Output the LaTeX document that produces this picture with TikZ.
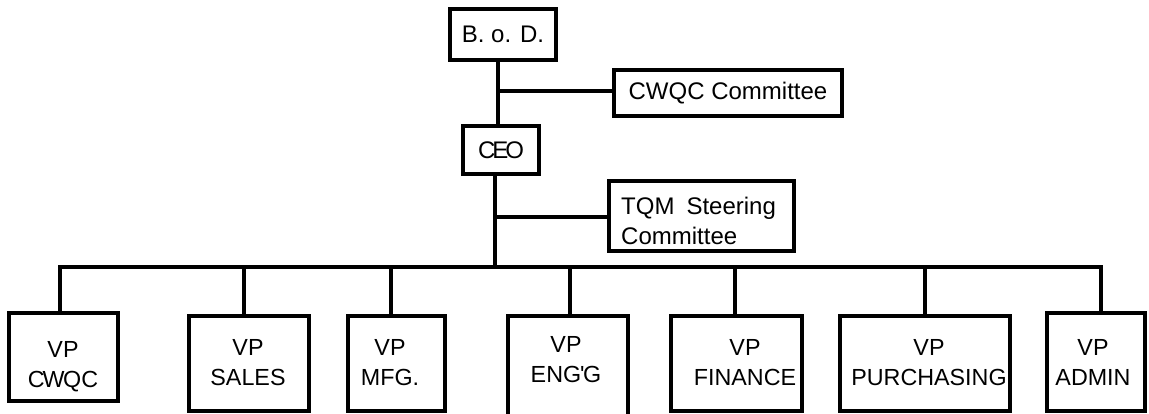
\documentclass[tikz,border=0pt]{standalone}
\usepackage{fontspec}
\setmainfont{Liberation Sans}
\begin{document}
\begin{tikzpicture}[x=1pt,y=-1pt,
  box/.style={draw, line width=3.2pt, inner sep=0pt},
  wire/.style={line width=3.2pt},
  toplbl/.style={font=\fontsize{24}{30}\selectfont},
  vplbl/.style={inner sep=0pt, anchor=north, align=center, font=\fontsize{23.3}{30.5}\selectfont}]
\clip (0,0) rectangle (1149,413);

% board, CEO and the two committees
\node[box, toplbl, minimum width=106pt, minimum height=51pt] (bod) at (503,34.5) {B. o. D.};
\node[box, toplbl, minimum width=228pt, minimum height=46pt] (cwqcc) at (728,93) {CWQC Committee};
\node[box, toplbl, minimum width=76pt, minimum height=48pt] (ceo) at (501,150) {C\kern-3pt E\kern-3pt O};
\node[box, minimum width=185pt, minimum height=70pt] (tqm) at (701.5,216) {};
\node[toplbl, inner sep=0pt, anchor=north west, align=left] (tqmtxt) at (621,197) {TQM\hspace{0.5em}Steering\\Committee};

\coordinate (jb) at (498,91);
\coordinate (jt) at (495,217);
\coordinate (bus) at (495,267);

\draw[wire] (bod.south -| jb) -- (ceo.north -| jb);
\draw[wire] (jb) -- (cwqcc.west |- jb);
\draw[wire] (ceo.south -| bus) -- (bus);
\draw[wire] (jt) -- (tqm.west |- jt);

% vice presidents
\node[box, minimum width=109pt, minimum height=88pt] (vp1) at (63.5,357) {};
\node[box, minimum width=120pt, minimum height=95pt] (vp2) at (249,363.5) {};
\node[box, minimum width=97pt,  minimum height=95pt] (vp3) at (396.5,363.5) {};
\node[box, minimum width=120pt, minimum height=114pt] (vp4) at (568,373) {};
\node[box, minimum width=131pt, minimum height=95pt] (vp5) at (736.5,363.5) {};
\node[box, minimum width=170pt, minimum height=95pt] (vp6) at (925,363.5) {};
\node[box, minimum width=98pt,  minimum height=98pt] (vp7) at (1096,362) {};

\node[vplbl] (vp1t) at (63,341)   {VP\\C\kern-2pt W\kern-1.5pt QC};
\node[vplbl] (vp2t) at (248,339)  {VP\\SALES};
\node[vplbl] (vp3t) at (390,339)  {VP\\MFG.};
\node[vplbl] (vp4t) at (566,336)  {VP\\ENG\kern-1pt\textquotesingle\kern-1.5pt G};
\node[vplbl] (vp5t) at (745,339)  {VP\\FINANCE};
\node[vplbl] (vp6t) at (929,339)  {VP\\PURCHASING};
\node[vplbl] (vp7t) at (1093,339) {VP\\ADMIN};

% bus and drops
\coordinate (d1) at (60,267);
\coordinate (d2) at (244,267);
\coordinate (d3) at (391,267);
\coordinate (d4) at (570,267);
\coordinate (d5) at (735,267);
\coordinate (d6) at (925,267);
\coordinate (d7) at (1101,267);

\draw[wire] (vp1.north -| d1) -- (d1) -- (d7) -- (vp7.north -| d7);
\draw[wire] (d2) -- (vp2.north -| d2);
\draw[wire] (d3) -- (vp3.north -| d3);
\draw[wire] (d4) -- (vp4.north -| d4);
\draw[wire] (d5) -- (vp5.north -| d5);
\draw[wire] (d6) -- (vp6.north -| d6);
\end{tikzpicture}
\end{document}
